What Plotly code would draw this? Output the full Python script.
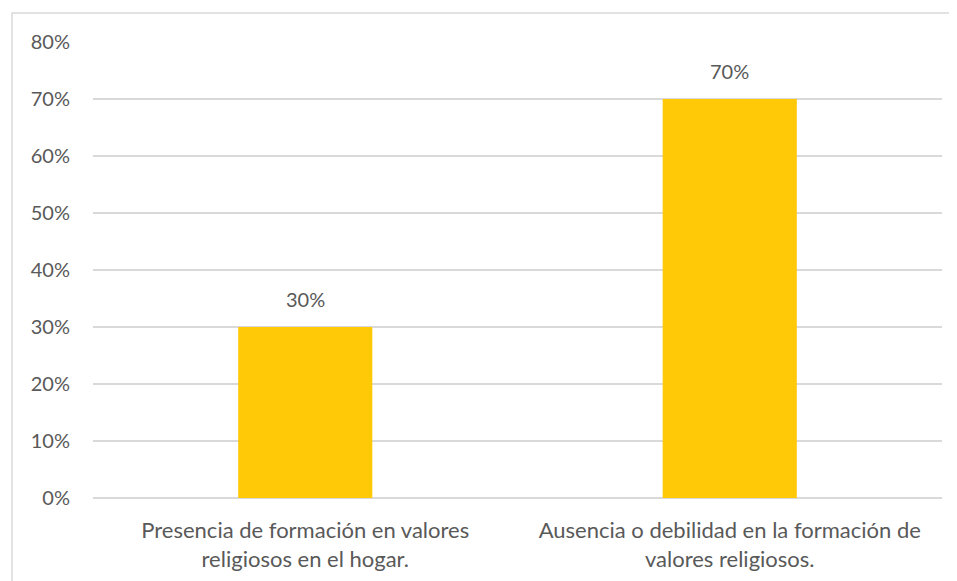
import plotly.graph_objects as go

categories = ["Presencia de formación en valores<br>religiosos en el hogar.",
              "Ausencia o debilidad en la formación de<br>valores religiosos."]
values = [0.30, 0.70]
labels = ["30%", "70%"]
tick_vals = [0, 0.1, 0.2, 0.3, 0.4, 0.5, 0.6, 0.7, 0.8]

FONT = "Lato"
TXT = "#595959"
GRID = "#D9D9D9"

fig = go.Figure()
fig.add_trace(go.Bar(x=categories, y=values, marker=dict(color="#FFC907", line=dict(width=0)),
                     width=0.316, hoverinfo="skip"))
for c, v, t in zip(categories, values, labels):
    fig.add_annotation(x=c, y=v, text=t, showarrow=False, yanchor="bottom", yshift=14,
                       font=dict(family=FONT, size=20, color=TXT))

# page body has an 8px margin; figure sized to fit the 957x581 window
W, H = 949, 573
ml, mr, mt, mb = 85, 15, 34, 83
pw, ph = W - ml - mr, H - mt - mb
fig.add_shape(type="rect", xref="paper", yref="paper",
              x0=(4 - ml) / pw, x1=1.2, y0=-0.5, y1=1 + (mt - 5) / ph,
              line=dict(color=GRID, width=1.5), fillcolor="rgba(0,0,0,0)", layer="below")

fig.update_layout(
    width=W, height=H, margin=dict(l=ml, r=mr, t=mt, b=mb, autoexpand=False),
    paper_bgcolor="white", plot_bgcolor="white", showlegend=False,
    font=dict(family=FONT, size=20, color=TXT),
    bargap=0.684,
    xaxis=dict(showgrid=False, showline=False, ticks="", ticklabelstandoff=17, automargin=False,
               tickfont=dict(size=22, color=TXT)),
    yaxis=dict(range=[0, 0.8], tickvals=tick_vals, tickformat=".0%", showgrid=True, automargin=False,
               gridcolor=GRID, gridwidth=1.5, zeroline=True, zerolinecolor=GRID, zerolinewidth=1.5,
               showline=False, ticks="", ticklabelstandoff=22, tickfont=dict(size=20, color=TXT)),
)
fig.write_html("out.html")
